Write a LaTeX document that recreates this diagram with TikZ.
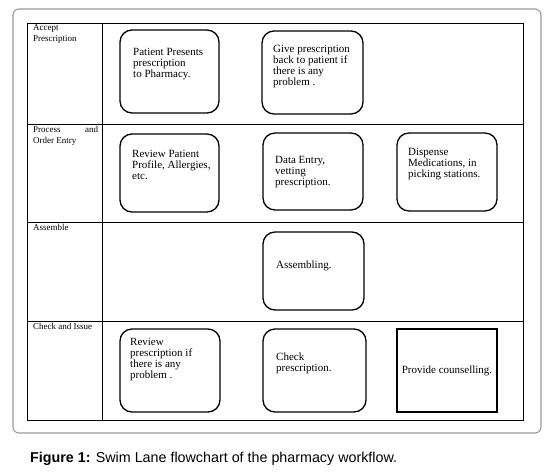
\documentclass[tikz,border=0pt]{standalone}
\usepackage{fontspec}
\setmainfont{Liberation Serif}
\newfontfamily\capfont{Liberation Sans}
\begin{document}
\begin{tikzpicture}[x=1pt,y=-1pt,
  frame/.style={draw=black!40,line width=1.1pt,rounded corners=6pt},
  grid/.style={draw=black,line width=0.7pt},
  stepbox/.style={draw=black,line width=1.3pt,rounded corners=12pt,inner sep=0pt},
  plainbox/.style={draw=black,line width=1.4pt,inner sep=0pt},
  boxtext/.style={anchor=north west,inner sep=0pt,align=left,font=\fontsize{11}{11}\selectfont},
  lanetext/.style={anchor=north west,inner sep=0pt,align=left,font=\fontsize{9}{11}\selectfont}]
\useasboundingbox (0,0) rectangle (551,474);
% outer frame
\draw[frame] (13,9) rectangle (541,433);
% table
\draw[grid] (27,23) rectangle (523,420);
\draw[grid] (102,23) -- (102,420);
\draw[grid] (27,124) -- (523,124);
\draw[grid] (27,222.5) -- (523,222.5);
\draw[grid] (27,321) -- (523,321);
% lane labels
\node[lanetext] (l1) at (33,24) {Accept\\Prescription};
\node[lanetext] (l2) at (33,126.5) {\makebox[65pt][s]{Process\hfill and}\\Order Entry};
\node[lanetext] (l3) at (33,224.5) {Assemble};
\node[lanetext] (l4) at (33,323.5) {Check and Issue};
% boxes
\node[stepbox,minimum width=99pt,minimum height=83pt] (a) at (169.5,71.5) {};
\node[stepbox,minimum width=101pt,minimum height=83pt] (b) at (312.5,72.5) {};
\node[stepbox,minimum width=99pt,minimum height=78pt] (c) at (169.5,173) {};
\node[stepbox,minimum width=100pt,minimum height=77pt] (d) at (313,171.5) {};
\node[stepbox,minimum width=100pt,minimum height=78pt] (e) at (447,172) {};
\node[stepbox,minimum width=101pt,minimum height=78pt] (f) at (313.5,271) {};
\node[stepbox,minimum width=100pt,minimum height=83pt] (h) at (170,370.5) {};
\node[stepbox,minimum width=103pt,minimum height=83pt] (i) at (314.5,370.5) {};
\node[plainbox,minimum width=100pt,minimum height=83pt,font=\fontsize{11}{11}\selectfont] (g) at (447,370.5) {Provide counselling.};
% box texts
\node[boxtext] (ta) at (133,48.5) {Patient Presents\\prescription\\to Pharmacy.};
\node[boxtext] (tb) at (273,45.5) {Give prescription\\back to patient if\\there is any\\problem .};
\node[boxtext] (tc) at (132,150.5) {Review Patient\\Profile, Allergies,\\etc.};
\node[boxtext] (td) at (275,156.5) {Data Entry,\\vetting\\prescription.};
\node[boxtext] (te) at (408,148.5) {Dispense\\Medications, in\\picking stations.};
\node[boxtext] (tf) at (276,260.5) {Assembling.};
\node[boxtext] (th) at (130,338.5) {Review\\prescription if\\there is any\\problem .};
\node[boxtext] (ti) at (276,352.5) {Check\\prescription.};
% caption
\node[anchor=west,inner sep=0pt,font=\capfont\fontsize{14.3}{16}\selectfont] (cap) at (30,459) {\textbf{Figure 1:} Swim Lane flowchart of the pharmacy workflow.};
\end{tikzpicture}
\end{document}
